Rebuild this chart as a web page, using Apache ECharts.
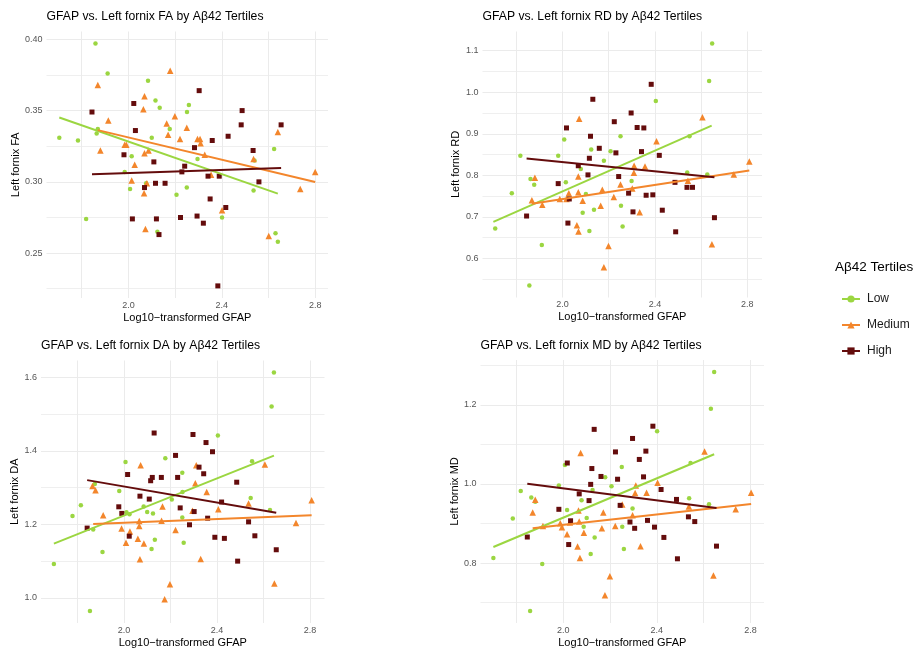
<!DOCTYPE html>
<html>
<head>
<meta charset="utf-8">
<script src="https://cdn.jsdelivr.net/npm/echarts@6/dist/echarts.min.js"></script>
<style>
html,body{margin:0;padding:0;background:#fff;}
#chart{width:919px;height:649px;}
</style>
</head>
<body>
<div id="chart"></div>
<script>
// ---------------- DATA ----------------
const groups = ['Low', 'Medium', 'High'];
const xAxisTitle = 'Log10\u2212transformed GFAP';
const legendTitle = 'A\u03b242 Tertiles';

// FA panel
const faLow = [[1.704,0.331],[1.784,0.329],[1.819,0.274],[1.859,0.397],[1.864,0.334],[1.869,0.337],[1.911,0.376],[1.984,0.307],[2.007,0.295],[2.014,0.318],[2.076,0.299],[2.084,0.371],[2.100,0.331],[2.116,0.357],[2.124,0.265],[2.134,0.352],[2.177,0.337],[2.206,0.291],[2.251,0.349],[2.259,0.354],[2.250,0.296],[2.296,0.316],[2.401,0.275],[2.536,0.294],[2.540,0.315],[2.624,0.323],[2.630,0.264],[2.640,0.258]];
const faMed = [[1.869,0.368],[1.880,0.322],[1.914,0.343],[1.984,0.326],[1.991,0.326],[2.014,0.301],[2.027,0.312],[2.064,0.351],[2.069,0.360],[2.069,0.320],[2.067,0.292],[2.073,0.267],[2.079,0.299],[2.086,0.322],[2.164,0.341],[2.170,0.333],[2.179,0.378],[2.199,0.346],[2.221,0.330],[2.250,0.338],[2.296,0.330],[2.307,0.330],[2.309,0.327],[2.327,0.319],[2.354,0.305],[2.401,0.280],[2.536,0.316],[2.601,0.262],[2.640,0.335],[2.736,0.295],[2.800,0.307]];
const faHigh = [[1.844,0.349],[1.981,0.319],[2.017,0.274],[2.023,0.355],[2.030,0.336],[2.069,0.296],[2.109,0.314],[2.116,0.299],[2.120,0.274],[2.131,0.263],[2.157,0.299],[2.223,0.275],[2.229,0.307],[2.241,0.311],[2.283,0.324],[2.294,0.276],[2.303,0.364],[2.321,0.271],[2.341,0.304],[2.350,0.288],[2.359,0.329],[2.383,0.227],[2.389,0.304],[2.417,0.282],[2.427,0.332],[2.483,0.340],[2.487,0.350],[2.534,0.322],[2.559,0.300],[2.654,0.340]];
const faLowFit = [[1.704,0.3452],[2.640,0.2917]];
const faMedFit = [[1.869,0.3363],[2.800,0.2999]];
const faHighFit = [[1.844,0.3053],[2.654,0.3098]];

// RD panel
const rdLow = [[1.708,0.672],[1.780,0.757],[1.817,0.847],[1.856,0.535],[1.861,0.791],[1.877,0.777],[1.910,0.632],[1.981,0.847],[2.007,0.886],[2.014,0.783],[2.079,0.815],[2.087,0.710],[2.101,0.755],[2.116,0.666],[2.124,0.862],[2.136,0.717],[2.179,0.835],[2.208,0.858],[2.251,0.894],[2.253,0.727],[2.260,0.677],[2.299,0.786],[2.404,0.979],[2.540,0.807],[2.550,0.894],[2.627,0.802],[2.635,1.027],[2.648,1.117]];
const rdMed = [[1.867,0.740],[1.880,0.794],[1.912,0.729],[1.988,0.743],[2.017,0.743],[2.027,0.757],[2.062,0.680],[2.068,0.759],[2.068,0.797],[2.069,0.665],[2.072,0.936],[2.087,0.739],[2.165,0.727],[2.172,0.765],[2.179,0.579],[2.199,0.630],[2.222,0.748],[2.251,0.778],[2.302,0.768],[2.309,0.806],[2.310,0.823],[2.334,0.711],[2.357,0.821],[2.407,0.882],[2.543,0.787],[2.606,0.940],[2.647,0.634],[2.742,0.802],[2.809,0.833]];
const rdHigh = [[1.844,0.702],[1.981,0.780],[2.017,0.914],[2.023,0.685],[2.029,0.743],[2.068,0.823],[2.110,0.801],[2.116,0.841],[2.121,0.894],[2.131,0.983],[2.159,0.865],[2.224,0.929],[2.231,0.854],[2.243,0.797],[2.286,0.757],[2.297,0.950],[2.305,0.712],[2.323,0.915],[2.342,0.857],[2.352,0.914],[2.362,0.752],[2.384,1.019],[2.391,0.753],[2.419,0.848],[2.432,0.716],[2.487,0.783],[2.490,0.664],[2.539,0.771],[2.563,0.771],[2.658,0.698]];
const rdLowFit = [[1.700,0.6880],[2.646,0.9194]];
const rdMedFit = [[1.867,0.7315],[2.809,0.8113]];
const rdHighFit = [[1.844,0.8403],[2.658,0.7952]];

// DA panel
const daLow = [[1.699,1.092],[1.779,1.223],[1.815,1.252],[1.854,0.964],[1.868,1.186],[1.875,1.310],[1.908,1.125],[1.980,1.291],[2.007,1.370],[2.011,1.233],[2.024,1.228],[2.085,1.249],[2.100,1.234],[2.119,1.133],[2.125,1.230],[2.133,1.158],[2.178,1.380],[2.206,1.268],[2.251,1.341],[2.251,1.219],[2.257,1.150],[2.252,1.288],[2.404,1.442],[2.545,1.272],[2.551,1.372],[2.628,1.239],[2.635,1.521],[2.645,1.614]];
const daMed = [[1.865,1.305],[1.878,1.293],[1.911,1.225],[1.990,1.189],[2.009,1.150],[2.026,1.181],[2.060,1.161],[2.066,1.196],[2.066,1.209],[2.069,1.105],[2.072,1.361],[2.086,1.148],[2.166,1.249],[2.162,1.210],[2.198,1.037],[2.175,0.996],[2.222,1.185],[2.295,1.237],[2.307,1.312],[2.311,1.361],[2.330,1.106],[2.356,1.288],[2.406,1.241],[2.536,1.257],[2.606,1.363],[2.647,1.039],[2.740,1.204],[2.807,1.266]];
const daHigh = [[1.842,1.190],[1.978,1.248],[1.991,1.230],[2.016,1.336],[2.023,1.168],[2.069,1.277],[2.109,1.269],[2.115,1.319],[2.122,1.328],[2.130,1.449],[2.161,1.328],[2.222,1.388],[2.231,1.328],[2.242,1.245],[2.282,1.199],[2.297,1.445],[2.302,1.235],[2.323,1.356],[2.343,1.338],[2.353,1.423],[2.360,1.217],[2.381,1.398],[2.391,1.165],[2.420,1.261],[2.432,1.162],[2.485,1.315],[2.489,1.100],[2.536,1.207],[2.563,1.169],[2.655,1.131]];
const daLowFit = [[1.699,1.1477],[2.645,1.3874]];
const daMedFit = [[1.868,1.2009],[2.807,1.2252]];
const daHighFit = [[1.842,1.3207],[2.655,1.2315]];

// MD panel
const mdLow = [[1.701,0.813],[1.784,0.913],[1.818,0.982],[1.858,0.679],[1.863,0.966],[1.880,0.955],[1.910,0.798],[1.981,0.996],[2.007,1.048],[2.016,0.934],[2.078,0.959],[2.087,0.892],[2.100,0.914],[2.117,0.823],[2.125,0.985],[2.134,0.865],[2.179,1.017],[2.206,0.994],[2.250,1.043],[2.252,0.892],[2.259,0.836],[2.296,0.938],[2.401,1.133],[2.538,0.964],[2.544,1.053],[2.623,0.949],[2.631,1.190],[2.645,1.283]];
const mdMed = [[1.869,0.928],[1.880,0.960],[1.913,0.894],[1.987,0.901],[1.994,0.891],[2.016,0.873],[2.028,0.903],[2.061,0.842],[2.065,0.933],[2.068,0.905],[2.071,0.813],[2.074,1.078],[2.088,0.877],[2.165,0.888],[2.171,0.928],[2.178,0.719],[2.199,0.767],[2.222,0.894],[2.252,0.948],[2.296,0.921],[2.307,0.977],[2.310,0.996],[2.330,0.843],[2.356,0.978],[2.403,1.003],[2.537,0.943],[2.604,1.082],[2.642,0.769],[2.737,0.936],[2.803,0.978]];
const mdHigh = [[1.846,0.866],[1.981,0.936],[2.017,1.053],[2.023,0.847],[2.031,0.907],[2.068,0.975],[2.110,0.958],[2.117,0.999],[2.122,1.039],[2.132,1.138],[2.161,1.019],[2.223,1.081],[2.232,1.012],[2.243,0.946],[2.285,0.904],[2.296,1.115],[2.305,0.888],[2.325,1.062],[2.343,1.018],[2.353,1.083],[2.360,0.908],[2.383,1.146],[2.390,0.891],[2.418,0.986],[2.430,0.865],[2.484,0.961],[2.488,0.811],[2.535,0.917],[2.562,0.905],[2.655,0.843]];
const mdLowFit = [[1.701,0.8408],[2.645,1.0750]];
const mdMedFit = [[1.869,0.8883],[2.803,0.9492]];
const mdHighFit = [[1.846,1.0008],[2.655,0.9392]];

// ---------------- STYLE / LAYOUT ----------------
const FONT = '"Liberation Sans", Arial, Helvetica, sans-serif';
const colors = { Low: '#9bd641', Medium: '#f3862c', High: '#640c0c' };
const symbols = { Low: 'circle', Medium: 'triangle', High: 'rect' };
const symSizes = { Low: 4.5, Medium: 6.5, High: 5 };
const GRIDC = '#ebebeb';

const panels = [
  { title: 'GFAP vs. Left fornix FA by A\u03b242 Tertiles', yName: 'Left fornix FA',
    pts: [faLow, faMed, faHigh], fits: [faLowFit, faMedFit, faHighFit],
    grid: { left: 46.5, top: 31.5, width: 281.5, height: 266.5 }, dec: 2, ySplit: 4, gap: 25 },
  { title: 'GFAP vs. Left fornix RD by A\u03b242 Tertiles', yName: 'Left fornix RD',
    pts: [rdLow, rdMed, rdHigh], fits: [rdLowFit, rdMedFit, rdHighFit],
    grid: { left: 482.5, top: 31.5, width: 279.5, height: 266 }, dec: 1, ySplit: 5, gap: 21 },
  { title: 'GFAP vs. Left fornix DA by A\u03b242 Tertiles', yName: 'Left fornix DA',
    pts: [daLow, daMed, daHigh], fits: [daLowFit, daMedFit, daHighFit],
    grid: { left: 41, top: 360.5, width: 283.5, height: 264.5 }, dec: 1, ySplit: 4, gap: 20 },
  { title: 'GFAP vs. Left fornix MD by A\u03b242 Tertiles', yName: 'Left fornix MD',
    pts: [mdLow, mdMed, mdHigh], fits: [mdLowFit, mdMedFit, mdHighFit],
    grid: { left: 480.5, top: 360, width: 283.5, height: 265.5 }, dec: 1, ySplit: 4, gap: 20 }
];

function expanded(vals) {
  const mn = Math.min(...vals), mx = Math.max(...vals);
  const pad = (mx - mn) * 0.05;
  return [mn - pad, mx + pad];
}

const option = {
  animation: false,
  backgroundColor: '#ffffff',
  textStyle: { fontFamily: FONT },
  title: [],
  grid: [],
  xAxis: [],
  yAxis: [],
  series: [],
  legend: {
    data: groups,
    orient: 'vertical',
    left: 836,
    top: 288,
    itemWidth: 18,
    itemHeight: 9,
    itemGap: 14,
    textStyle: { fontFamily: FONT, fontSize: 12, color: '#1a1a1a', padding: [0, 0, 0, 2] },
    selectedMode: false
  }
};

panels.forEach((p, i) => {
  const allX = [], allY = [];
  p.pts.forEach(arr => arr.forEach(d => { allX.push(d[0]); allY.push(d[1]); }));
  const xr = expanded(allX), yr = expanded(allY);

  option.title.push({
    text: p.title,
    left: p.grid.left,
    top: p.grid.top - 20.5,
    padding: 0,
    textStyle: { fontFamily: FONT, fontSize: 12.2, fontWeight: 'normal', color: '#000' }
  });
  option.grid.push(Object.assign({ containLabel: false }, p.grid));
  option.xAxis.push({
    type: 'value', gridIndex: i, min: xr[0], max: xr[1], splitNumber: 6,
    name: xAxisTitle, nameLocation: 'middle', nameGap: 14,
    nameTextStyle: { fontFamily: FONT, fontSize: 11, color: '#000' },
    axisLine: { show: false }, axisTick: { show: false },
    axisLabel: {
      fontFamily: FONT, fontSize: 9, color: '#555', margin: 3,
      showMinLabel: false, showMaxLabel: false,
      formatter: v => (Math.round(v * 10) % 4 === 0 ? v.toFixed(1) : '')
    },
    splitLine: { show: true, showMinLine: false, showMaxLine: false, lineStyle: { color: GRIDC, width: 1 } }
  });
  option.yAxis.push({
    type: 'value', gridIndex: i, min: yr[0], max: yr[1], splitNumber: p.ySplit,
    name: p.yName, nameLocation: 'middle', nameGap: p.gap, nameRotate: 90,
    nameTextStyle: { fontFamily: FONT, fontSize: 11, color: '#000' },
    axisLine: { show: false }, axisTick: { show: false },
    axisLabel: {
      fontFamily: FONT, fontSize: 9, color: '#555', margin: 4,
      showMinLabel: false, showMaxLabel: false,
      formatter: v => v.toFixed(p.dec)
    },
    splitLine: { show: true, showMinLine: false, showMaxLine: false, lineStyle: { color: GRIDC, width: 1 } },
    minorTick: { show: false, splitNumber: 2 },
    minorSplitLine: { show: true, lineStyle: { color: GRIDC, width: 0.8 } }
  });

  groups.forEach((g, k) => {
    option.series.push({
      name: g, type: 'line', xAxisIndex: i, yAxisIndex: i,
      data: p.fits[k], symbol: symbols[g], symbolSize: symSizes[g] + 1, showSymbol: false,
      lineStyle: { color: colors[g], width: 2 }, itemStyle: { color: colors[g] },
      z: 5, silent: true
    });
  });
  groups.forEach((g, k) => {
    option.series.push({
      name: g, type: 'scatter', xAxisIndex: i, yAxisIndex: i,
      data: p.pts[k], symbol: symbols[g], symbolSize: symSizes[g],
      itemStyle: { color: colors[g], opacity: 1 },
      z: 3, silent: true
    });
  });
});

option.title.push({
  text: legendTitle, left: 835, top: 260, padding: 0,
  textStyle: { fontFamily: FONT, fontSize: 13.5, fontWeight: 'normal', color: '#000' }
});

const chart = echarts.init(document.getElementById('chart'), null, { renderer: 'canvas' });
chart.setOption(option);
</script>
</body>
</html>
